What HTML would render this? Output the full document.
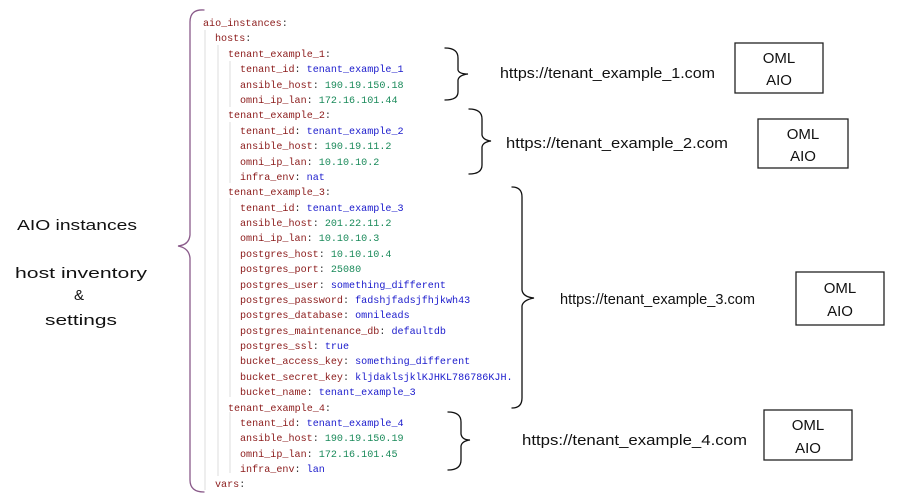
<!DOCTYPE html>
<html><head><meta charset="utf-8"><style>
body{margin:0;background:#fff;width:912px;height:502px;overflow:hidden}
svg{display:block}
.c{font-family:"Liberation Mono",monospace;font-size:10.1px}
.k{fill:#8b1a1a}.p{fill:#333}.s{fill:#1a1acc}.n{fill:#1a8a5a}
.h{font-family:"Liberation Sans",sans-serif;font-size:15px;fill:#111}
</style></head><body>
<svg width="912" height="502" viewBox="0 0 912 502">
<g stroke="#ddd" stroke-width="1">
<line x1="205" y1="30" x2="205" y2="490"/>
<line x1="218" y1="45" x2="218" y2="476"/>
<line x1="230" y1="61" x2="230" y2="107"/>
<line x1="230" y1="122" x2="230" y2="183"/>
<line x1="230" y1="198" x2="230" y2="397"/>
<line x1="230" y1="412" x2="230" y2="473"/>
</g>
<g class="c">
<text x="203" y="26"><tspan class="k">aio_instances</tspan><tspan class="p">:</tspan></text>
<text x="215" y="41"><tspan class="k">hosts</tspan><tspan class="p">:</tspan></text>
<text x="228" y="57"><tspan class="k">tenant_example_1</tspan><tspan class="p">:</tspan></text>
<text x="240" y="72"><tspan class="k">tenant_id</tspan><tspan class="p">: </tspan><tspan class="s">tenant_example_1</tspan></text>
<text x="240" y="88"><tspan class="k">ansible_host</tspan><tspan class="p">: </tspan><tspan class="n">190.19.150.18</tspan></text>
<text x="240" y="103"><tspan class="k">omni_ip_lan</tspan><tspan class="p">: </tspan><tspan class="n">172.16.101.44</tspan></text>
<text x="228" y="118"><tspan class="k">tenant_example_2</tspan><tspan class="p">:</tspan></text>
<text x="240" y="134"><tspan class="k">tenant_id</tspan><tspan class="p">: </tspan><tspan class="s">tenant_example_2</tspan></text>
<text x="240" y="149"><tspan class="k">ansible_host</tspan><tspan class="p">: </tspan><tspan class="n">190.19.11.2</tspan></text>
<text x="240" y="165"><tspan class="k">omni_ip_lan</tspan><tspan class="p">: </tspan><tspan class="n">10.10.10.2</tspan></text>
<text x="240" y="180"><tspan class="k">infra_env</tspan><tspan class="p">: </tspan><tspan class="s">nat</tspan></text>
<text x="228" y="195"><tspan class="k">tenant_example_3</tspan><tspan class="p">:</tspan></text>
<text x="240" y="211"><tspan class="k">tenant_id</tspan><tspan class="p">: </tspan><tspan class="s">tenant_example_3</tspan></text>
<text x="240" y="226"><tspan class="k">ansible_host</tspan><tspan class="p">: </tspan><tspan class="n">201.22.11.2</tspan></text>
<text x="240" y="241"><tspan class="k">omni_ip_lan</tspan><tspan class="p">: </tspan><tspan class="n">10.10.10.3</tspan></text>
<text x="240" y="257"><tspan class="k">postgres_host</tspan><tspan class="p">: </tspan><tspan class="n">10.10.10.4</tspan></text>
<text x="240" y="272"><tspan class="k">postgres_port</tspan><tspan class="p">: </tspan><tspan class="n">25080</tspan></text>
<text x="240" y="288"><tspan class="k">postgres_user</tspan><tspan class="p">: </tspan><tspan class="s">something_different</tspan></text>
<text x="240" y="303"><tspan class="k">postgres_password</tspan><tspan class="p">: </tspan><tspan class="s">fadshjfadsjfhjkwh43</tspan></text>
<text x="240" y="318"><tspan class="k">postgres_database</tspan><tspan class="p">: </tspan><tspan class="s">omnileads</tspan></text>
<text x="240" y="334"><tspan class="k">postgres_maintenance_db</tspan><tspan class="p">: </tspan><tspan class="s">defaultdb</tspan></text>
<text x="240" y="349"><tspan class="k">postgres_ssl</tspan><tspan class="p">: </tspan><tspan class="s">true</tspan></text>
<text x="240" y="364"><tspan class="k">bucket_access_key</tspan><tspan class="p">: </tspan><tspan class="s">something_different</tspan></text>
<text x="240" y="380"><tspan class="k">bucket_secret_key</tspan><tspan class="p">: </tspan><tspan class="s">kljdaklsjklKJHKL786786KJH.</tspan></text>
<text x="240" y="395"><tspan class="k">bucket_name</tspan><tspan class="p">: </tspan><tspan class="s">tenant_example_3</tspan></text>
<text x="228" y="411"><tspan class="k">tenant_example_4</tspan><tspan class="p">:</tspan></text>
<text x="240" y="426"><tspan class="k">tenant_id</tspan><tspan class="p">: </tspan><tspan class="s">tenant_example_4</tspan></text>
<text x="240" y="441"><tspan class="k">ansible_host</tspan><tspan class="p">: </tspan><tspan class="n">190.19.150.19</tspan></text>
<text x="240" y="457"><tspan class="k">omni_ip_lan</tspan><tspan class="p">: </tspan><tspan class="n">172.16.101.45</tspan></text>
<text x="240" y="472"><tspan class="k">infra_env</tspan><tspan class="p">: </tspan><tspan class="s">lan</tspan></text>
<text x="215" y="487"><tspan class="k">vars</tspan><tspan class="p">:</tspan></text>
</g>
<g fill="none" stroke-linecap="round">
<path d="M204 10 Q190 9 190 22 L190 235 Q189 245 178 246 Q189 248 190 258 L190 480 Q190 492 204 492" stroke="#8a5a8a" stroke-width="1.3"/>
<path d="M445 48 Q458 48 458 58 L458 70 Q459 74 468 74 Q459 75 458 80 L458 92 Q458 100 445 100" stroke="#111" stroke-width="1.3"/>
<path d="M469 109 Q482 109 482 119 L482 135 Q483 140 491 141 Q483 142 482 147 L482 165 Q482 174 469 174" stroke="#111" stroke-width="1.3"/>
<path d="M512 187 Q522 187 522 197 L522 290 Q523 297 534 298 Q523 300 522 306 L522 398 Q522 408 512 408" stroke="#111" stroke-width="1.3"/>
<path d="M448 412 Q461 412 461 422 L461 434 Q462 440 470 440 Q462 441 461 446 L461 460 Q461 470 448 470" stroke="#111" stroke-width="1.3"/>
</g>
<g class="h">
<text x="500" y="78" textLength="215" lengthAdjust="spacingAndGlyphs">https://tenant_example_1.com</text>
<text x="506" y="148" textLength="222" lengthAdjust="spacingAndGlyphs">https://tenant_example_2.com</text>
<text x="560" y="304" textLength="195" lengthAdjust="spacingAndGlyphs">https://tenant_example_3.com</text>
<text x="522" y="445" textLength="225" lengthAdjust="spacingAndGlyphs">https://tenant_example_4.com</text>
<text x="17" y="230" textLength="120" lengthAdjust="spacingAndGlyphs">AIO instances</text>
<text x="15" y="278" textLength="132" lengthAdjust="spacingAndGlyphs">host inventory</text>
<text x="74" y="300">&amp;</text>
<text x="45" y="325" textLength="72" lengthAdjust="spacingAndGlyphs">settings</text>
</g>
<g fill="none" stroke="#222" stroke-width="1.3">
<rect x="735" y="43" width="88" height="50"/>
<rect x="758" y="119" width="90" height="49"/>
<rect x="796" y="272" width="88" height="53"/>
<rect x="764" y="410" width="88" height="50"/>
</g>
<g class="h" text-anchor="middle" font-size="13">
<text x="779" y="63">OML</text><text x="779" y="85">AIO</text>
<text x="803" y="139">OML</text><text x="803" y="161">AIO</text>
<text x="840" y="293">OML</text><text x="840" y="316">AIO</text>
<text x="808" y="430">OML</text><text x="808" y="453">AIO</text>
</g>
</svg>
</body></html>
